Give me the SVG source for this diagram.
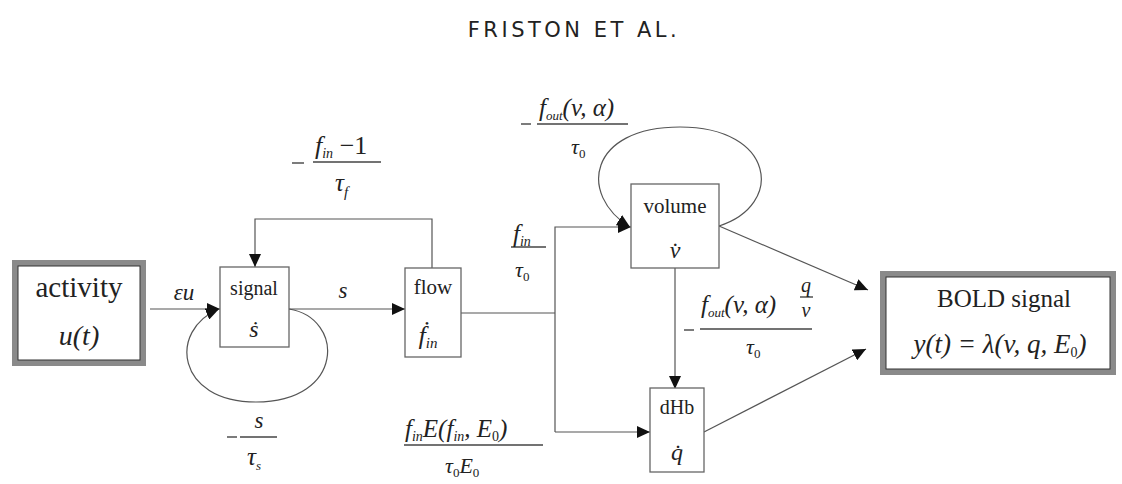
<svg xmlns="http://www.w3.org/2000/svg" width="1122" height="484" viewBox="0 0 1122 484">
<style>
text{font-family:"Liberation Serif","DejaVu Serif","Times New Roman",serif;fill:#222}
.m{font-style:italic}
.u{font-style:normal}
.box{fill:#fff;stroke:#666;stroke-width:1.3}
.thick{fill:#fff;stroke:#8a8a8a;stroke-width:6}
.thin{fill:none;stroke:#333;stroke-width:1}
.ln{fill:none;stroke:#555;stroke-width:1.2}
.bar{stroke:#444;stroke-width:1.4}
</style>
<defs>
<marker id="ah" markerUnits="userSpaceOnUse" markerWidth="14" markerHeight="12" refX="13" refY="6" orient="auto">
<path d="M0,0 L13,6 L0,12 Z" fill="#111"/>
</marker>
</defs>
<text x="574" y="37" text-anchor="middle" style="font-family:'DejaVu Sans',sans-serif" font-size="21" letter-spacing="3.5" fill="#222">FRISTON ET AL.</text>

<g id="connectors">
<line class="ln" x1="150" y1="309" x2="220" y2="309" marker-end="url(#ah)"/>
<path class="ln" d="M289,309 C345,318 345,402 256,402 C176,402 168,330 219,309" marker-end="url(#ah)"/>
<line class="ln" x1="289" y1="309" x2="405" y2="309" marker-end="url(#ah)"/>
<path class="ln" d="M432,268 L432,219 L255,219 L255,267" marker-end="url(#ah)"/>
<path class="ln" d="M461,313 L555,313"/>
<path class="ln" d="M555,432 L555,227 L631,227" marker-end="url(#ah)"/>
<path class="ln" d="M555,432 L650,432" marker-end="url(#ah)"/>
<path class="ln" d="M719,226 C785,205 775,127 680,127 C588,127 578,195 630,227" marker-end="url(#ah)"/>
<line class="ln" x1="675" y1="268" x2="675" y2="389" marker-end="url(#ah)"/>
<line class="ln" x1="719" y1="226" x2="868" y2="290" marker-end="url(#ah)"/>
<line class="ln" x1="704" y1="432" x2="866" y2="349" marker-end="url(#ah)"/>
</g>

<g id="activity">
<rect class="thick" x="15" y="263" width="128" height="100"/>
<rect class="thin" x="18" y="266" width="122" height="94"/>
<text x="79" y="297" font-size="29" text-anchor="middle">activity</text>
<text class="m" x="79" y="345" font-size="28" text-anchor="middle">u(t)</text>
</g>

<g id="signal">
<rect class="box" x="220" y="267" width="69" height="80"/>
<text x="254" y="295" font-size="20" text-anchor="middle">signal</text>
<text class="m" x="254" y="337" font-size="24" text-anchor="middle">ṡ</text>
</g>

<g id="flow">
<rect class="box" x="405" y="268" width="56" height="89"/>
<text x="433" y="294" font-size="21" text-anchor="middle">flow</text>
<text class="m" x="428" y="344" font-size="26" text-anchor="middle">ḟ<tspan font-size="15" dy="4">in</tspan></text>
</g>

<g id="volume">
<rect class="box" x="631" y="184" width="88" height="84"/>
<text x="675" y="213" font-size="21" text-anchor="middle">volume</text>
<text class="m" x="675" y="258" font-size="24" text-anchor="middle">v̇</text>
</g>

<g id="dHb">
<rect class="box" x="650" y="388" width="54" height="84"/>
<text x="677" y="414" font-size="20" text-anchor="middle">dHb</text>
<text class="m" x="677" y="460" font-size="24" text-anchor="middle">q̇</text>
</g>

<g id="bold">
<rect class="thick" x="883" y="274" width="230" height="98"/>
<rect class="thin" x="886" y="277" width="224" height="92"/>
<text x="1004" y="307" font-size="25" text-anchor="middle">BOLD signal</text>
<text class="m" x="1000" y="353" font-size="27" text-anchor="middle">y(t) = λ(v, q, E<tspan class="u" font-size="14" dy="4">0</tspan><tspan dy="-4">)</tspan></text>
</g>

<g id="labels">
<text class="m" x="184" y="300" font-size="23" text-anchor="middle">εu</text>
<text class="m" x="343" y="298" font-size="23" text-anchor="middle">s</text>

<line class="bar" x1="292" y1="163" x2="304" y2="163"/>
<line class="bar" x1="313" y1="162" x2="381" y2="162"/>
<text class="m" x="315" y="154" font-size="26">f<tspan font-size="14" dy="4">in</tspan><tspan class="u" dy="-4"> −1</tspan></text>
<text class="m" x="335" y="191" font-size="25">τ<tspan font-size="15" dy="6">f</tspan></text>

<line class="bar" x1="227" y1="437" x2="237" y2="437"/>
<line class="bar" x1="240" y1="437" x2="277" y2="437"/>
<text class="m" x="259" y="428" font-size="23" text-anchor="middle">s</text>
<text class="m" x="247" y="465" font-size="25">τ<tspan font-size="13" dy="5">s</tspan></text>

<line class="bar" x1="511" y1="247" x2="546" y2="247"/>
<text class="m" x="513" y="242" font-size="25">f<tspan font-size="14" dy="4">in</tspan></text>
<text class="m" x="515" y="277" font-size="22">τ<tspan class="u" font-size="13" dy="4">0</tspan></text>

<line class="bar" x1="521" y1="124" x2="531" y2="124"/>
<line class="bar" x1="537" y1="124" x2="628" y2="124"/>
<text class="m" x="539" y="116" font-size="25">f<tspan font-size="13" dy="4">out</tspan><tspan dy="-4">(v, α)</tspan></text>
<text class="m" x="571" y="154" font-size="22">τ<tspan class="u" font-size="13" dy="4">0</tspan></text>

<line class="bar" x1="684" y1="330" x2="694" y2="330"/>
<line class="bar" x1="700" y1="329" x2="812" y2="329"/>
<text class="m" x="701" y="313" font-size="25">f<tspan font-size="13" dy="4">out</tspan><tspan dy="-4">(v, α)</tspan></text>
<line class="bar" x1="800" y1="297" x2="813" y2="297"/>
<text class="m" x="806" y="292" font-size="20" text-anchor="middle">q</text>
<text class="m" x="806" y="317" font-size="20" text-anchor="middle">v</text>
<text class="m" x="746" y="354" font-size="22">τ<tspan class="u" font-size="13" dy="4">0</tspan></text>

<line class="bar" x1="404" y1="445" x2="543" y2="445"/>
<text class="m" x="405" y="437" font-size="25">f<tspan font-size="14" dy="4">in</tspan><tspan dy="-4">E(f</tspan><tspan font-size="14" dy="4">in</tspan><tspan dy="-4">, E</tspan><tspan class="u" font-size="14" dy="4">0</tspan><tspan dy="-4">)</tspan></text>
<text class="m" x="445" y="473" font-size="22">τ<tspan class="u" font-size="13" dy="4">0</tspan><tspan dy="-4">E</tspan><tspan class="u" font-size="13" dy="4">0</tspan></text>
</g>
</svg>
